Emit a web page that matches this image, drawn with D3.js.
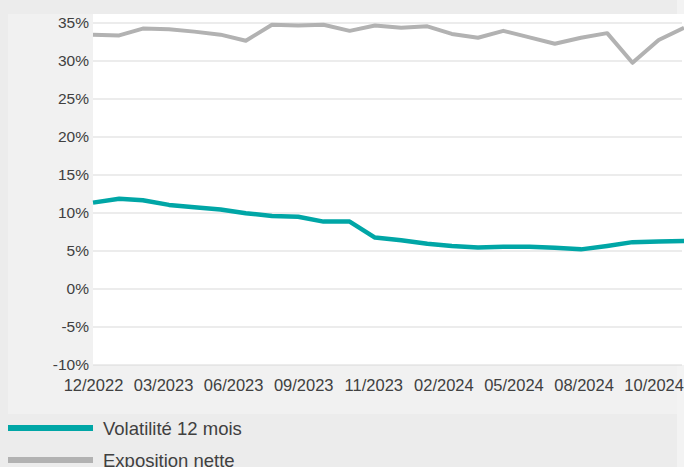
<!DOCTYPE html>
<html>
<head>
<meta charset="utf-8">
<script src="https://cdn.jsdelivr.net/npm/d3@7"></script>
<style>
	body { margin:0; background:#ececec; }
	svg { display:block; font-family:"Liberation Sans", Arial, sans-serif; }
</style>
</head>
<body>
<script>
// month-end dates, 12/2022 .. 11/2024
var dates = ["2022-12-31","2023-01-31","2023-02-28","2023-03-31","2023-04-30","2023-05-31",
	"2023-06-30","2023-07-31","2023-08-31","2023-09-30","2023-10-31","2023-11-30",
	"2023-12-31","2024-01-31","2024-02-29","2024-03-31","2024-04-30","2024-05-31",
	"2024-06-30","2024-07-31","2024-08-31","2024-09-30","2024-10-31","2024-11-30"];

var volatilite = [11.3, 11.8, 11.6, 11.0, 10.7, 10.4, 9.9, 9.55, 9.45, 8.8, 8.8, 6.7,
	6.35, 5.9, 5.6, 5.4, 5.5, 5.5, 5.35, 5.15, 5.6, 6.1, 6.2, 6.25];

var exposition = [33.4, 33.3, 34.2, 34.1, 33.8, 33.4, 32.6, 34.7, 34.6, 34.7, 33.9, 34.6,
	34.3, 34.5, 33.5, 33.0, 33.9, 33.05, 32.2, 33.0, 33.6, 29.7, 32.7, 34.3];

// axis labels sit every 83 days from the first date
var tickDates = ["2022-12-31","2023-03-24","2023-06-15","2023-09-06","2023-11-28",
	"2024-02-19","2024-05-12","2024-08-03","2024-10-25"];
var yTicks = [-10, -5, 0, 5, 10, 15, 20, 25, 30, 35];

var seriesNames = ["Volatilité 12 mois", "Exposition nette"];
var seriesColors = ["#00a6a6", "#b2b2b2"];

var W = 684, H = 467;
var pLeft = 93, pRight = 684, pTop = 22.5, pBottom = 364.5;

var parse = d3.timeParse("%Y-%m-%d");

var svg = d3.select("body").append("svg")
	.attr("width", W)
	.attr("height", H);

// backgrounds
svg.append("rect").attr("x",8).attr("y",14).attr("width",669).attr("height",400).attr("fill","#f1f1f1");
svg.append("rect").attr("x",677).attr("y",0).attr("width",7).attr("height",H).attr("fill","#f3f3f3");
svg.append("rect").attr("x",pLeft).attr("y",14).attr("width",pRight-pLeft).attr("height",pBottom-14+0.5).attr("fill","#ffffff");

var x = d3.scaleTime()
	.domain([parse(dates[0]), parse(dates[dates.length-1])])
	.range([pLeft, pRight]);

var y = d3.scaleLinear()
	.domain([-10, 35])
	.range([pBottom, pTop]);

// y axis + grid
var gy = svg.append("g")
	.attr("transform", "translate(" + pLeft + ",0)")
	.call(d3.axisLeft(y)
		.tickValues(yTicks)
		.tickSizeInner(-(682 - pLeft))
		.tickSizeOuter(0)
		.tickPadding(4)
		.tickFormat(function(d){ return d + "%"; }));
gy.select(".domain").remove();
gy.selectAll("line").attr("stroke", "#d9d9d9");
gy.selectAll("text").attr("fill", "#404040").style("font-size", "15.5px");

// x axis
var gx = svg.append("g")
	.attr("transform", "translate(0," + pBottom + ")")
	.call(d3.axisBottom(x)
		.tickValues(tickDates.map(parse))
		.tickSize(0)
		.tickPadding(14.5)
		.tickFormat(d3.timeFormat("%m/%Y")));
gx.select(".domain").remove();
gx.selectAll("text").attr("fill", "#404040").style("font-size", "16.5px");

// lines
var series = [volatilite, exposition];
var widths = [4.5, 4];
var line = d3.line()
	.x(function(d, i){ return x(parse(dates[i])); })
	.y(function(d){ return y(d); });

// draw grey first so teal is on top
[1, 0].forEach(function(k){
	svg.append("path")
		.datum(series[k])
		.attr("d", line)
		.attr("fill", "none")
		.attr("stroke", seriesColors[k])
		.attr("stroke-width", widths[k])
		.attr("stroke-linejoin", "round");
});

// legend
var leg = svg.selectAll("g.leg")
	.data(seriesNames)
	.enter()
	.append("g")
	.attr("class", "leg")
	.attr("transform", function(d, i){ return "translate(0," + (428 + i * 32) + ")"; });
leg.append("line")
	.attr("x1", 8).attr("x2", 93)
	.attr("stroke", function(d, i){ return seriesColors[i]; })
	.attr("stroke-width", 6);
leg.append("text")
	.attr("x", 103)
	.attr("y", 6.5)
	.attr("fill", "#404040")
	.style("font-size", "18.5px")
	.text(function(d){ return d; });
</script>
</body>
</html>
